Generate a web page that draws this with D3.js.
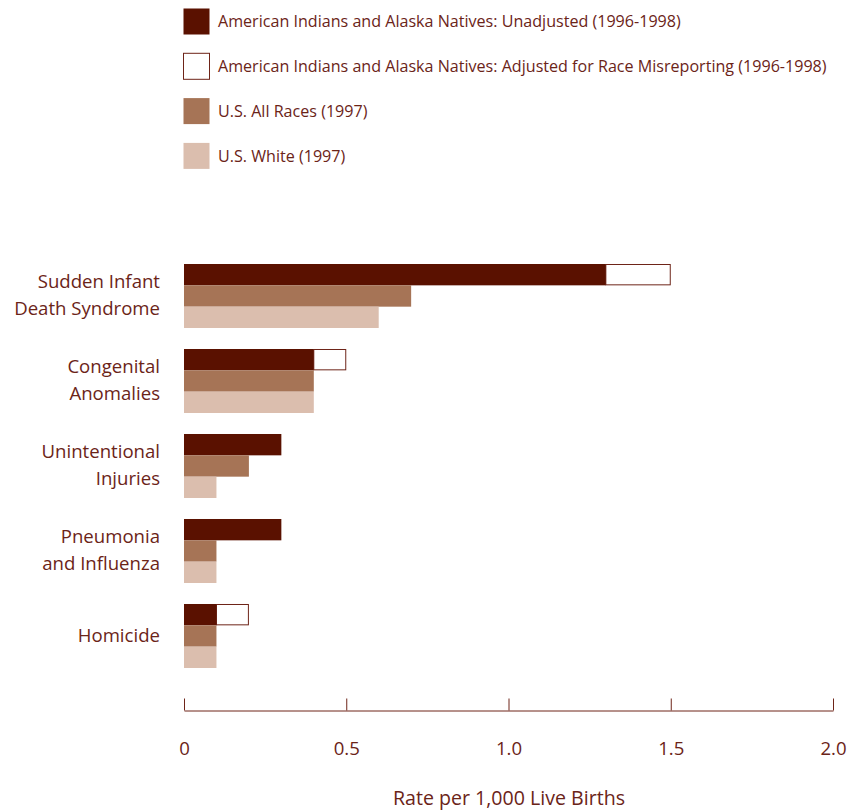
<!DOCTYPE html>
<html>
<head>
<meta charset="utf-8">
<script src="https://cdn.jsdelivr.net/npm/d3@7"></script>
<style>
  html, body { margin: 0; padding: 0; background: #ffffff; }
  svg { display: block; }
  text { font-family: "Open Sans", Lato, sans-serif; fill: #6b2418; }
</style>
</head>
<body>
<svg id="chart" width="859" height="812"></svg>
<script>
// ---- data ----
const categories = ["Sudden Infant Death Syndrome", "Congenital Anomalies", "Unintentional Injuries", "Pneumonia and Influenza", "Homicide"];
const categoryLines = [["Sudden Infant", "Death Syndrome"], ["Congenital", "Anomalies"], ["Unintentional", "Injuries"], ["Pneumonia", "and Influenza"], ["Homicide"]];
const aianUnadjusted = [1.3, 0.4, 0.3, 0.3, 0.1];
const aianAdjusted   = [1.5, 0.5, null, null, 0.2];
const usAllRaces     = [0.7, 0.4, 0.2, 0.1, 0.1];
const usWhite        = [0.6, 0.4, 0.1, 0.1, 0.1];
const tickValues = [0, 0.5, 1.0, 1.5, 2.0];
const tickLabels = ["0", "0.5", "1.0", "1.5", "2.0"];
const legendLabels = [
  "American Indians and Alaska Natives: Unadjusted (1996-1998)",
  "American Indians and Alaska Natives: Adjusted for Race Misreporting (1996-1998)",
  "U.S. All Races (1997)",
  "U.S. White (1997)"
];
const axisTitle = "Rate per 1,000 Live Births";

// ---- styles ----
const cDark = "#5a1100", cMid = "#a67456", cLight = "#dbbeae", cText = "#6b2418", cOutline = "#6e2418";
const fontFam = "'Open Sans', Lato, sans-serif";

const svg = d3.select("#chart");

const x = d3.scaleLinear().domain([0, 2]).range([184, 833]);
const y = d3.scaleBand().domain(categories).range([264, 668]).paddingInner(0.247).paddingOuter(0).align(0);
const rowKeys = ["unadj", "all", "white"];
const yr = d3.scaleBand().domain(rowKeys).range([0, y.bandwidth()]);

// ---- legend ----
const legendColors = [cDark, "#ffffff", cMid, cLight];
const lg = svg.append("g");
legendLabels.forEach((lab, i) => {
  const yy = 8 + i * 44.8;
  lg.append("rect").attr("x", 183.5).attr("y", yy + 0.5).attr("width", 26).attr("height", 26)
    .attr("fill", legendColors[i])
    .attr("stroke", i === 1 ? cOutline : "none").attr("stroke-width", 1);
  lg.append("text").attr("x", 218).attr("y", yy + 13.5).attr("dy", "0.35em")
    .style("font-size", "16.1px").text(lab);
});

// ---- bars ----
const g = svg.append("g");
categories.forEach((cat, i) => {
  const y0 = y(cat);
  if (aianAdjusted[i] != null) {
    g.append("rect")
      .attr("x", x(aianUnadjusted[i]))
      .attr("y", y0 + yr("unadj") + 0.5)
      .attr("width", x(aianAdjusted[i]) - x(aianUnadjusted[i]) - 0.5)
      .attr("height", yr.bandwidth() - 1)
      .attr("fill", "#ffffff").attr("stroke", cOutline).attr("stroke-width", 1);
  }
  g.append("rect").attr("x", x(0)).attr("y", y0 + yr("unadj"))
    .attr("width", x(aianUnadjusted[i]) - x(0)).attr("height", yr.bandwidth()).attr("fill", cDark);
  g.append("rect").attr("x", x(0)).attr("y", y0 + yr("all"))
    .attr("width", x(usAllRaces[i]) - x(0)).attr("height", yr.bandwidth()).attr("fill", cMid);
  g.append("rect").attr("x", x(0)).attr("y", y0 + yr("white"))
    .attr("width", x(usWhite[i]) - x(0)).attr("height", yr.bandwidth()).attr("fill", cLight);

  const lines = categoryLines[i];
  const cy = y0 + y.bandwidth() / 2;
  const lh = 27;
  const t = g.append("text").attr("text-anchor", "end").style("font-size", "18.6px");
  lines.forEach((ln, j) => {
    t.append("tspan").attr("x", 160)
      .attr("y", cy + (j - (lines.length - 1) / 2) * lh - 1)
      .attr("dy", "0.35em").text(ln);
  });
});

// ---- axis ----
const axis = d3.axisBottom(x).tickValues(tickValues)
  .tickFormat((d, i) => tickLabels[i]).tickSize(-12).tickSizeOuter(0).tickPadding(31);
const ax = svg.append("g").attr("transform", "translate(0,710.5)").call(axis);
ax.select(".domain").attr("stroke", cOutline).attr("stroke-width", 1);
ax.selectAll(".tick line").attr("stroke", cOutline).attr("stroke-width", 1);
ax.selectAll(".tick text").style("font-family", fontFam)
  .style("font-size", "18.6px").attr("fill", cText);

svg.append("text").attr("x", 509).attr("y", 805)
  .attr("text-anchor", "middle").style("font-size", "19.6px").text(axisTitle);
</script>
</body>
</html>
